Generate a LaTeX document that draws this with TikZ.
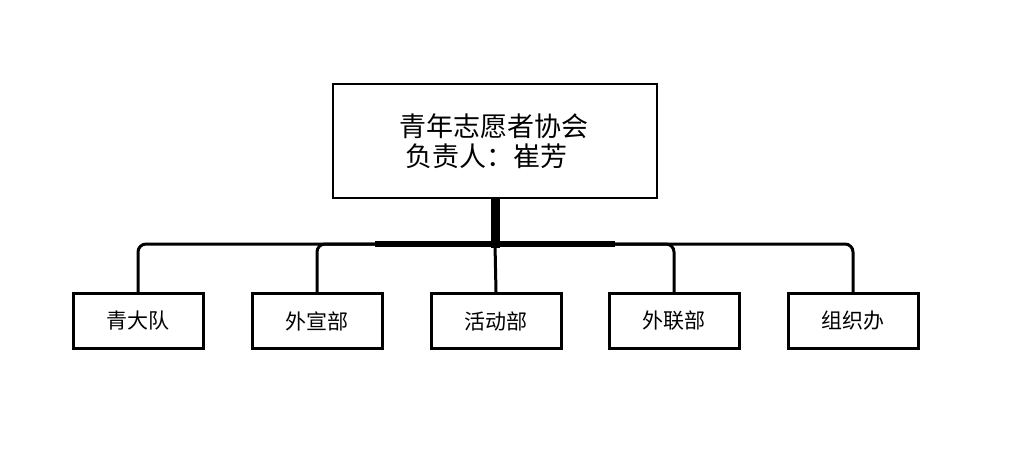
\documentclass[tikz,border=0pt]{standalone}
\usepackage{fontspec}
\newfontfamily\cjk{Noto Sans CJK SC}
\begin{document}
\begin{tikzpicture}[x=1pt,y=-1pt,
  top/.style={draw,line width=1.5pt,minimum width=324pt,minimum height=114pt,inner sep=0pt},
  sub/.style={draw,line width=3pt,minimum width=130pt,minimum height=55pt,inner sep=0pt,font=\cjk\fontsize{21}{24}\selectfont},
  link/.style={line width=3pt,rounded corners=8pt}]
\useasboundingbox (0,0) rectangle (1024,460);
\node[top] (t) at (495,141) {};
\node[font=\cjk\fontsize{27}{30}\selectfont,align=left,anchor=west] (tt) at (396,141) {青年志愿者协会\\\hspace*{6pt}负责人：崔芳};
\node[sub] (a) at (138,321) {青大队};
\node[sub] (b) at (317,321) {外宣部};
\node[sub] (c) at (496,321) {活动部};
\node[sub] (d) at (674,321) {外联部};
\node[sub] (e) at (853,321) {组织办};
\coordinate (j) at (495,244);
\draw[line width=9pt] (t.south) -- ([yshift=-4pt]j);
\draw[link] (a.north) |- (j) -| (e.north);
\draw[link] (b.north) |- (j);
\draw[link] (d.north) |- (j);
\draw[line width=6pt] ([xshift=-120pt]j) -- ([xshift=120pt]j);
\draw[line width=3pt] (j) -- (c.north);
\end{tikzpicture}
\end{document}
